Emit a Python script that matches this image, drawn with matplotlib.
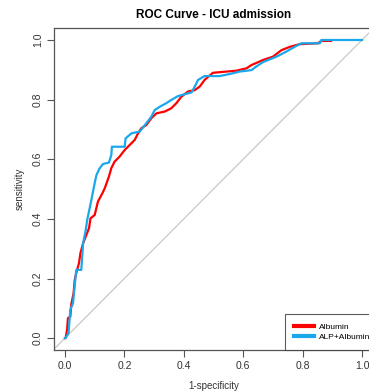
import matplotlib
matplotlib.use("Agg")
import matplotlib.pyplot as plt

# ROC points (1-specificity, sensitivity)
albumin_fpr = [0.0, 0.002, 0.007, 0.010, 0.018, 0.021, 0.029, 0.033, 0.038, 0.047,
               0.052, 0.061, 0.070, 0.081, 0.086, 0.100, 0.111, 0.126, 0.134, 0.148,
               0.156, 0.167, 0.184, 0.201, 0.224, 0.235, 0.246, 0.257, 0.274, 0.291,
               0.308, 0.336, 0.358, 0.375, 0.392, 0.414, 0.437, 0.454, 0.470, 0.498,
               0.543, 0.577, 0.611, 0.628, 0.667, 0.700, 0.729, 0.757, 0.790, 0.852,
               0.863, 0.896]
albumin_tpr = [0.0, 0.0, 0.028, 0.067, 0.072, 0.112, 0.151, 0.196, 0.218, 0.251,
               0.285, 0.318, 0.341, 0.369, 0.402, 0.413, 0.458, 0.486, 0.503, 0.542,
               0.570, 0.592, 0.609, 0.631, 0.654, 0.665, 0.687, 0.704, 0.715, 0.738,
               0.754, 0.760, 0.771, 0.788, 0.810, 0.827, 0.832, 0.844, 0.866, 0.890,
               0.894, 0.897, 0.905, 0.916, 0.933, 0.944, 0.966, 0.977, 0.986, 0.989,
               0.997, 0.997]

combo_fpr = [0.0, 0.002, 0.012, 0.018, 0.027, 0.038, 0.055, 0.061, 0.070, 0.075,
             0.089, 0.100, 0.106, 0.117, 0.128, 0.148, 0.156, 0.158, 0.201, 0.204,
             0.224, 0.252, 0.274, 0.291, 0.302, 0.319, 0.341, 0.358, 0.381, 0.403,
             0.426, 0.437, 0.448, 0.470, 0.521, 0.555, 0.588, 0.628, 0.644, 0.667,
             0.712, 0.745, 0.773, 0.796, 0.858, 0.863, 1.0]
combo_tpr = [0.0, 0.0, 0.017, 0.095, 0.117, 0.229, 0.229, 0.318, 0.363, 0.397,
             0.464, 0.520, 0.547, 0.570, 0.584, 0.589, 0.614, 0.642, 0.642, 0.670,
             0.687, 0.693, 0.721, 0.743, 0.765, 0.776, 0.788, 0.799, 0.812, 0.818,
             0.824, 0.844, 0.866, 0.879, 0.879, 0.886, 0.894, 0.899, 0.911, 0.926,
             0.944, 0.961, 0.977, 0.989, 0.989, 1.0, 1.0]

x_ticks = [0.0, 0.2, 0.4, 0.6, 0.8, 1.0]
y_ticks = [0.0, 0.2, 0.4, 0.6, 0.8, 1.0]

plt.rcParams['font.family'] = ['Liberation Sans', 'DejaVu Sans']

fig = plt.figure(figsize=(3.69, 3.92), dpi=100)
ax = fig.add_axes([0.1463, 0.107, 0.8645, 0.8214])

ax.axline((0, 0), (1, 1), color='#c8c8c8', lw=0.9, zorder=1)
ax.plot(albumin_fpr, albumin_tpr, color='#ff0000', lw=1.6,
        label='Albumin', zorder=2)
ax.plot(combo_fpr, combo_tpr, color='#1aa7ec', lw=1.6,
        label='ALP+Albumin', zorder=3)

ax.set_xlim(-0.037, 1.037)
ax.set_ylim(-0.04, 1.04)
ax.set_xticks(x_ticks)
ax.set_yticks(y_ticks)
ax.set_xticklabels([f"{t:.1f}" for t in x_ticks], fontsize=7.5, color='#333333')
ax.set_yticklabels([f"{t:.1f}" for t in y_ticks], fontsize=7.5, color='#333333',
                   rotation=90, va='center')
ax.tick_params(length=5, width=0.8, color='#555555', pad=3)
for s in ax.spines.values():
    s.set_color('#555555')
    s.set_linewidth(0.9)

ax.set_xlabel('1-specificity', fontsize=7, color='#333333', labelpad=7)
ax.set_ylabel('sensitivity', fontsize=7, color='#333333', labelpad=6)
ax.set_title('ROC Curve - ICU admission', fontsize=8.5, fontweight='bold', pad=7)

leg = ax.legend(loc='lower right', bbox_to_anchor=(1.02, 0.0), fontsize=6,
                frameon=True, fancybox=False, edgecolor='#333333',
                handlelength=2.4, handletextpad=0.6, borderaxespad=0.0,
                borderpad=1.1, labelspacing=0.25)
for line in leg.get_lines():
    line.set_linewidth(3)
leg.get_frame().set_linewidth(0.8)

fig.savefig('out.png', dpi=100)
